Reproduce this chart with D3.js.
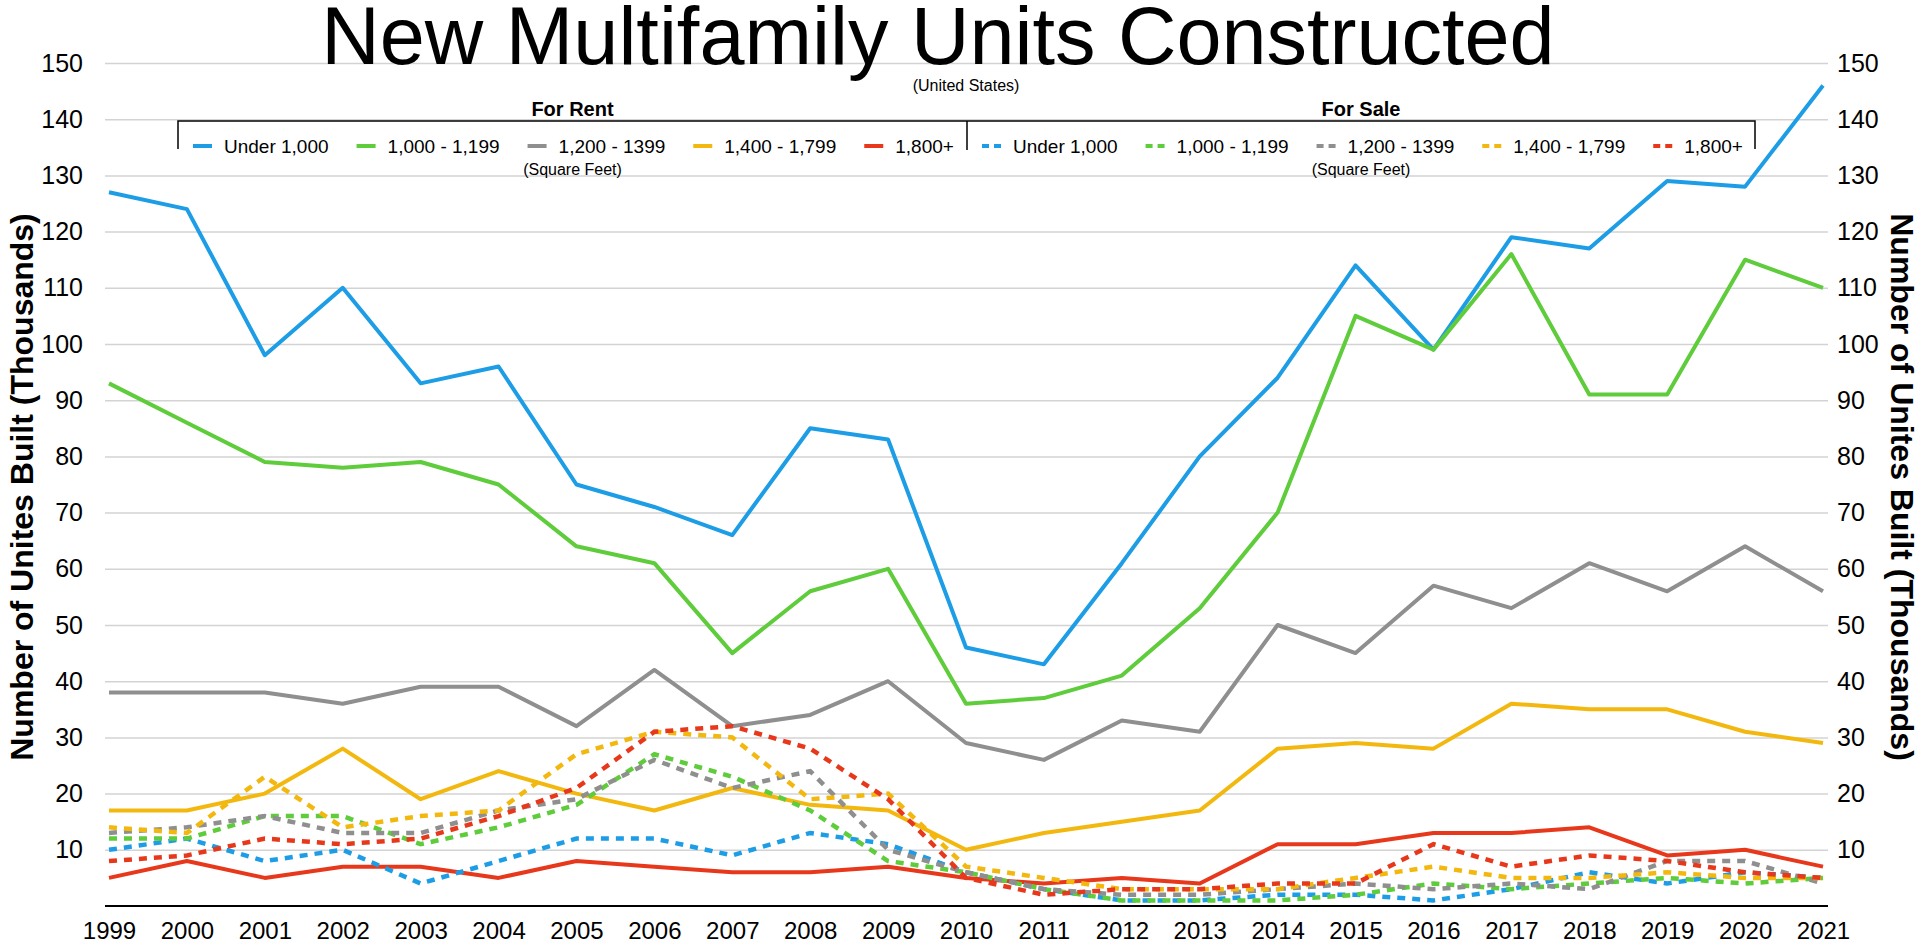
<!DOCTYPE html>
<html lang="en">
<head>
    <meta charset="UTF-8">
    <title>New Multifamily Units Constructed</title>
    <script src="https://d3js.org/d3.v7.min.js"></script>
    <style>
        body { margin: 0; background: #fff; }
        svg { font-family: "Liberation Sans", Arial, Helvetica, sans-serif; }
    </style>
</head>
<body>
<div id="main"></div>
<script>
    // data (thousands of units)
    const years = d3.range(1999, 2022)
    const sizeLabels = ["Under 1,000", "1,000 - 1,199", "1,200 - 1399", "1,400 - 1,799", "1,800+"]
    const sizeColors = ["#1c9de6", "#5ecc3b", "#8f8f8f", "#f3b80f", "#e8381c"]
    const yTicks = d3.range(10, 151, 10)

    // for rent (solid)
    const rentUnder1000 = [127, 124, 98, 110, 93, 96, 75, 71, 66, 85, 83, 46, 43, 61, 80, 94, 114, 99, 119, 117, 129, 128, 146]
    const rent1000 = [93, 86, 79, 78, 79, 75, 64, 61, 45, 56, 60, 36, 37, 41, 53, 70, 105, 99, 116, 91, 91, 115, 110]
    const rent1200 = [38, 38, 38, 36, 39, 39, 32, 42, 32, 34, 40, 29, 26, 33, 31, 50, 45, 57, 53, 61, 56, 64, 56]
    const rent1400 = [17, 17, 20, 28, 19, 24, 20, 17, 21, 18, 17, 10, 13, 15, 17, 28, 29, 28, 36, 35, 35, 31, 29]
    const rent1800 = [5, 8, 5, 7, 7, 5, 8, 7, 6, 6, 7, 5, 4, 5, 4, 11, 11, 13, 13, 14, 9, 10, 7]

    // for sale (dashed)
    const saleUnder1000 = [10, 12, 8, 10, 4, 8, 12, 12, 9, 13, 11, 6, 3, 1, 1, 2, 2, 1, 3, 6, 4, 6, 5]
    const sale1000 = [12, 12, 16, 16, 11, 14, 18, 27, 23, 17, 8, 6, 3, 1, 1, 1, 2, 4, 3, 4, 5, 4, 5]
    const sale1200 = [13, 14, 16, 13, 13, 17, 19, 26, 21, 24, 10, 6, 3, 2, 2, 3, 4, 3, 4, 3, 8, 8, 4]
    const sale1400 = [14, 13, 23, 14, 16, 17, 27, 31, 30, 19, 20, 7, 5, 3, 3, 3, 5, 7, 5, 5, 6, 5, 5]
    const sale1800 = [8, 9, 12, 11, 12, 16, 21, 31, 32, 28, 19, 5, 2, 3, 3, 4, 4, 11, 7, 9, 8, 6, 5]

    const rentSeries = [rentUnder1000, rent1000, rent1200, rent1400, rent1800]
    const saleSeries = [saleUnder1000, sale1000, sale1200, sale1400, sale1800]

    const width = 1920, height = 945

    let svg = d3.select("#main")
        .append("svg")
        .attr("width", width)
        .attr("height", height)

    svg.append("rect").attr("width", width).attr("height", height).attr("fill", "#fff")

    let x = d3.scaleLinear()
        .domain([1999, 2021])
        .range([109, 1823])

    let y = d3.scaleLinear()
        .domain([0, 150])
        .range([906, 63])

    // gridlines
    svg.append("g")
        .attr("transform", "translate(105, 0)")
        .call(d3.axisRight(y).tickValues(yTicks).tickSize(1723).tickFormat(""))
        .call(g => g.select(".domain").remove())
        .call(g => g.selectAll(".tick line").attr("stroke", "#d3d3d3").attr("stroke-width", 1.5))

    // left / right value labels
    svg.append("g")
        .attr("transform", `translate(${x(1999)}, 0)`)
        .call(d3.axisLeft(y).tickValues(yTicks).tickSize(0).tickPadding(26))
        .call(g => g.select(".domain").remove())
        .call(g => g.selectAll("text").attr("font-size", 25).attr("fill", "#000")
            .attr("font-family", "Liberation Sans, Arial, sans-serif"))

    svg.append("g")
        .attr("transform", `translate(${x(2021)}, 0)`)
        .call(d3.axisRight(y).tickValues(yTicks).tickSize(0).tickPadding(14))
        .call(g => g.select(".domain").remove())
        .call(g => g.selectAll("text").attr("font-size", 25).attr("fill", "#000")
            .attr("font-family", "Liberation Sans, Arial, sans-serif"))

    // year labels
    svg.append("g")
        .attr("transform", `translate(0, ${y(0)})`)
        .call(d3.axisBottom(x).tickValues(years).tickFormat(d3.format("d")).tickSize(0).tickPadding(16))
        .call(g => g.select(".domain").remove())
        .call(g => g.selectAll("text").attr("font-size", 24).attr("fill", "#000")
            .attr("font-family", "Liberation Sans, Arial, sans-serif"))

    // baseline
    svg.append("line")
        .attr("x1", 105).attr("x2", 1828)
        .attr("y1", y(0)).attr("y2", y(0))
        .attr("stroke", "#000")
        .attr("stroke-width", 2)

    let line = d3.line()
        .x((d, i) => x(years[i]))
        .y(d => y(d))

    // solid lines (for rent)
    svg.append("g").selectAll("path")
        .data(rentSeries)
        .enter()
        .append("path")
        .attr("d", d => line(d))
        .attr("fill", "none")
        .attr("stroke", (d, i) => sizeColors[i])
        .attr("stroke-width", 4)
        .attr("stroke-linejoin", "round")

    // dashed lines (for sale)
    svg.append("g").selectAll("path")
        .data(saleSeries)
        .enter()
        .append("path")
        .attr("d", d => line(d))
        .attr("fill", "none")
        .attr("stroke", (d, i) => sizeColors[i])
        .attr("stroke-width", 4.5)
        .attr("stroke-dasharray", "8,7")

    // title
    svg.append("text")
        .attr("x", 938)
        .attr("y", 64)
        .attr("text-anchor", "middle")
        .attr("font-size", 81)
        .attr("fill", "#000")
        .text("New Multifamily Units Constructed")

    svg.append("text")
        .attr("x", 966)
        .attr("y", 85)
        .attr("dy", "0.35em")
        .attr("text-anchor", "middle")
        .attr("font-size", 16)
        .text("(United States)")

    // axis titles
    svg.append("text")
        .attr("transform", "translate(22, 487) rotate(-90)")
        .attr("dy", "0.35em")
        .attr("text-anchor", "middle")
        .attr("font-size", 32)
        .attr("font-weight", "bold")
        .text("Number of Unites Built (Thousands)")

    svg.append("text")
        .attr("transform", "translate(1902, 487) rotate(90)")
        .attr("dy", "0.35em")
        .attr("text-anchor", "middle")
        .attr("font-size", 32)
        .attr("font-weight", "bold")
        .text("Number of Unites Built (Thousands)")

    // legend bracket
    let legendLeft = 178, legendMid = 967, legendRight = 1755, legendTop = 121
    svg.append("path")
        .attr("d", `M ${legendLeft},149 V ${legendTop} H ${legendRight} V 149 M ${legendMid},${legendTop} V 150`)
        .attr("fill", "none")
        .attr("stroke", "#000")
        .attr("stroke-width", 1.5)

    let groups = [
        {"title": "For Rent", "x0": legendLeft, "x1": legendMid, "dash": null},
        {"title": "For Sale", "x0": legendMid, "x1": legendRight, "dash": "7,5"}
    ]

    groups.forEach(function (grp) {
        let cx = (grp.x0 + grp.x1) / 2
        svg.append("text")
            .attr("x", cx).attr("y", 109).attr("dy", "0.35em")
            .attr("text-anchor", "middle")
            .attr("font-size", 20)
            .attr("font-weight", "bold")
            .text(grp.title)

        svg.append("text")
            .attr("x", cx).attr("y", 169).attr("dy", "0.35em")
            .attr("text-anchor", "middle")
            .attr("font-size", 16)
            .text("(Square Feet)")

        let cursor = grp.x0 + 15
        sizeLabels.forEach(function (label, i) {
            svg.append("line")
                .attr("x1", cursor).attr("x2", cursor + 19)
                .attr("y1", 146).attr("y2", 146)
                .attr("stroke", sizeColors[i])
                .attr("stroke-width", 4)
                .attr("stroke-dasharray", grp.dash)
            let t = svg.append("text")
                .attr("x", cursor + 31).attr("y", 146).attr("dy", "0.35em")
                .attr("font-size", 19)
                .text(label)
            cursor += 31 + t.node().getComputedTextLength() + 28
        })
    })
</script>
</body>
</html>
